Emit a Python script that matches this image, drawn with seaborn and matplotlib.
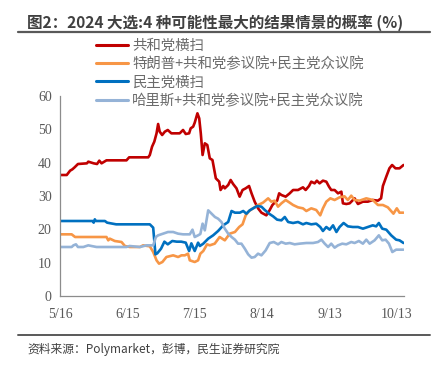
import matplotlib
matplotlib.use("Agg")
import matplotlib.pyplot as plt
import seaborn as sns
import pandas as pd
from matplotlib.lines import Line2D

sns.set_style("white")
plt.rcParams['font.family'] = ['Noto Sans CJK SC', 'DejaVu Sans']

title = "图2：2024 大选:4 种可能性最大的结果情景的概率 (%)"
source = "资料来源：Polymarket，彭博，民生证券研究院"
series_names = ["共和党横扫", "特朗普+共和党参议院+民主党众议院", "民主党横扫", "哈里斯+共和党参议院+民主党众议院"]
colors = ["#C00000", "#F79646", "#0070C0", "#95B3D7"]
start_date = "2024-05-16"
xtick_labels = ["5/16", "6/15", "7/15", "8/14", "9/13", "10/13"]
ytick_values = [0, 10, 20, 30, 40, 50, 60]

# days since 5/16 and values (%)
red_days = [0, 3, 4.5, 5.5, 6.5, 8, 12, 12.6, 15, 16.5, 17.5, 18.5, 20.7, 29.6, 30.8, 39.3, 40, 41, 42, 43, 43.7, 44.4,
            45.5, 46.7, 48, 49.6, 53.3, 54.8, 56, 57.5, 58.2, 59.3, 60, 61.2, 62, 62.7, 63.5, 64.5, 65.6, 66.7, 67.9,
            69.4, 70.9, 71.5, 72.7, 73.4, 74.9, 76, 77.1, 78.6, 80, 81.3, 82.7, 84.2, 85.3, 86.7, 88.2, 89.7, 91.9,
            93.4, 94.6, 95.6, 96.7, 97.6, 98.6, 100.5, 102.3, 103.8, 106, 108.2, 109.4, 110.9, 111.9, 113.4, 114.4,
            115.6, 117.1, 118.6, 119.8, 120.8, 122.3, 123.8, 125.3, 126, 127.5, 129, 131.2, 132.7, 134.9, 137.1,
            139.3, 141.6, 143, 143.8, 145.3, 146.7, 147.9, 149.4, 151.2, 153]
red_vals = [36.3, 36.3, 37.6, 38, 38.6, 39.6, 39.8, 40.3, 39.8, 39.6, 40.6, 39.8, 40.7, 40.7, 41.6, 41.6, 42.3, 44.8,
            46.3, 48.8, 51.6, 49.3, 48.3, 49.3, 49.8, 48.8, 48.8, 49.8, 48.6, 48.8, 50.3, 50.8, 52, 54.8, 53.3, 48.8,
            42.3, 45.8, 45.3, 41.3, 40.8, 35.3, 34.3, 31.8, 33, 32.3, 33.3, 34.8, 33.6, 32.3, 29.8, 31.8, 32.3, 33,
            30.8, 28.3, 26.3, 25, 24.2, 25.8, 27.3, 28, 28.6, 30.8, 30.3, 29.8, 30.8, 31.8, 31.8, 32.6, 31.8, 33,
            34.3, 33.8, 34.6, 33.8, 34.6, 34.3, 32.8, 31.8, 31.8, 30.8, 31.3, 27.8, 27.6, 27.8, 29.3, 27.6, 28.3,
            28.3, 28.8, 28.6, 29.3, 33, 35.8, 38.3, 39.3, 38.3, 38.3, 39.3]

orange_days = [0, 5.2, 6.7, 20.7, 21.5, 22.2, 24.4, 27.4, 28.9, 31.1, 35.6, 37, 40, 41.5, 43, 44.1, 45.6, 47.4, 50.4,
               52.6, 54.1, 55.6, 57, 57.8, 60, 61.5, 62.5, 63.8, 65.5, 66.7, 68.9, 71.1, 73.4, 75.6, 77.9, 79.8,
               81.3, 82.7, 84.2, 86, 88.2, 90.4, 92.7, 94.1, 95.6, 97.1, 98.6, 100.5, 102.3, 103.8, 106, 108.2,
               109.7, 111.9, 114.1, 115.9, 117.1, 118.6, 120.4, 122.3, 124.5, 126.7, 128.2, 129.7, 131.2, 133.4,
               136.4, 139.3, 141.6, 143.8, 146, 148.5, 150, 151.2, 153]
orange_vals = [18.5, 18.5, 17.7, 17.7, 16.7, 17.2, 16.5, 16.2, 15, 14.7, 14.7, 15.2, 14.9, 13.2, 10.7, 9.7, 10.2,
               11.7, 12.2, 11.7, 12.2, 12.2, 12.7, 10.7, 10.2, 10.7, 12.7, 13.5, 15.5, 15.2, 15.7, 17.7, 16.7, 18.7,
               19.2, 20.7, 21.5, 24.2, 25.5, 26.3, 27.3, 28, 29.3, 28.3, 28.6, 26.8, 27.8, 28.8, 28, 27.3, 26.6,
               26.3, 25.5, 26.3, 25.8, 24.2, 26.3, 28.3, 29.3, 28.8, 29.6, 29.9, 28.8, 30.1, 28.8, 28.6, 29.3, 28.8,
               27.3, 27.3, 26.6, 24.7, 26.3, 25, 25]

blue_days = [0, 10, 14.5, 15, 15.5, 16, 20, 21, 25, 30, 35, 40, 41.5, 42.5, 43.3, 45, 46.5, 48, 50, 52, 54, 56, 57.5,
             58.5, 60, 61.5, 62.3, 63.8, 66, 68.2, 70.4, 72.7, 74.9, 76.4, 77.9, 80.1, 81.6, 83, 84.5, 86, 87.8,
             89.7, 91.2, 93.1, 94.9, 96.7, 98.6, 100.1, 101.6, 103.8, 106, 108.2, 109.7, 111.9, 114.1, 115.9, 117.1,
             118.6, 120.1, 121.6, 123.1, 124.5, 126.3, 128.2, 130.4, 132.7, 134.9, 137.1, 139.3, 140.8, 142, 143.5,
             145.3, 147.5, 149.7, 151.2, 153]
blue_vals = [22.5, 22.5, 22.5, 22.0, 23.0, 22.5, 22.5, 22.0, 21.5, 21.5, 21.5, 21.5, 20.5, 12.5, 12.8, 14.2, 16.3,
             15.5, 16.5, 16.3, 16.3, 16.0, 13.5, 15.8, 13.5, 16.0, 15.0, 15.7, 17.2, 18.2, 19.5, 21.2, 22.2, 25.5,
             25.0, 25.0, 25.5, 24.7, 25.7, 26.3, 27.0, 26.8, 25.8, 24.7, 23.9, 22.9, 22.7, 23.7, 22.2, 21.9, 22.2,
             21.5, 21.9, 21.5, 21.7, 20.7, 19.5, 20.7, 19.9, 21.2, 19.2, 20.7, 21.9, 20.9, 20.7, 20.7, 20.2, 20.7,
             21.2, 20.9, 21.9, 20.2, 19.9, 18.2, 16.9, 16.7, 15.9]

lightblue_days = [0, 5.2, 6, 7.1, 8, 10.4, 12.6, 14, 16.3, 29.6, 31, 35.6, 38.5, 41.5, 42.7, 43.7, 45.9, 48.1, 50.4,
                  52.6, 54.8, 57.8, 59, 60, 61.5, 62.5, 63.5, 64.5, 66, 67.5, 69, 70.4, 71.9, 73.4, 74.9, 76.4, 77.9,
                  79.3, 80.8, 82.3, 83.8, 85.3, 86.7, 88.2, 89.7, 91.6, 93.4, 95.2, 97.1, 98.6, 100.5, 102.3, 104.5,
                  106.7, 109.7, 112.7, 114.9, 116.4, 117.9, 119.4, 120.8, 122.3, 123.8, 125.7, 127.5, 129.7, 131.2,
                  133.1, 134.9, 136.4, 137.9, 140.1, 142, 143.5, 145, 146.5, 148, 149.7, 153]
lightblue_vals = [14.7, 14.7, 15.2, 15.5, 14.7, 14.7, 15.2, 15, 14.7, 14.7, 15, 14.7, 15.2, 15.2, 17.7, 18.2, 18.7,
                  19.2, 19.2, 18.7, 18.5, 18.5, 19.9, 17.7, 18.2, 18.6, 21.7, 19.7, 25.7, 24.7, 23.7, 23.2, 22.2,
                  20.2, 18.7, 17.7, 16.9, 15.7, 15.7, 14.2, 12.5, 11.5, 11.7, 12.7, 12.2, 13.7, 15.9, 16.2, 15.5,
                  16.2, 15.7, 15.9, 15.5, 15.7, 15.9, 15.9, 16.2, 16.9, 15.7, 14.7, 15.7, 14.5, 15.2, 15.7, 15.5,
                  16.2, 15.9, 16.5, 15.7, 16.9, 15.7, 16.7, 18.2, 16.7, 16.9, 15.7, 13.2, 13.9, 13.9]

all_days = [red_days, orange_days, blue_days, lightblue_days]
all_vals = [red_vals, orange_vals, blue_vals, lightblue_vals]

t0 = pd.Timestamp(start_date)
frames = []
for name, d, v in zip(series_names, all_days, all_vals):
    frames.append(pd.DataFrame({
        "date": t0 + pd.to_timedelta(d, unit="D"),
        "value": v,
        "series": name,
    }))
df = pd.concat(frames, ignore_index=True)

W, H = 438, 366
fig = plt.figure(figsize=(W / 100, H / 100), dpi=100)
ax = fig.add_axes([60 / W, 1 - 296 / H, (404 - 60) / W, 200 / H])

palette = dict(zip(series_names, colors))
sns.lineplot(data=df, x="date", y="value", hue="series", hue_order=series_names,
             palette=palette, estimator=None, sort=True, linewidth=1.9, ax=ax, legend=False)

ax.set_ylim(0, 60)
ax.set_xlim(t0, t0 + pd.Timedelta(days=153.2))
ax.set_yticks(ytick_values)
xt = [t0 + pd.Timedelta(days=30 * i) for i in range(len(xtick_labels))]
ax.set_xticks(xt)
ax.set_xticklabels(xtick_labels)
ax.set_xlabel("")
ax.set_ylabel("")
for lab in ax.get_xticklabels() + ax.get_yticklabels():
    lab.set_fontfamily("Liberation Serif")
    lab.set_fontsize(10)
    lab.set_color("#595959")
ax.tick_params(axis="both", direction="out", length=3, width=0.8, color="#8c8c8c")
ax.tick_params(axis="x", pad=6)
ax.tick_params(axis="y", pad=3)
for s in ["top", "right"]:
    ax.spines[s].set_visible(False)
for s in ["left", "bottom"]:
    ax.spines[s].set_color("#8c8c8c")
    ax.spines[s].set_linewidth(0.9)

handles = [Line2D([0], [0], color=c, lw=2.2) for c in colors]
leg = fig.legend(handles, series_names, loc="upper left", bbox_to_anchor=(96 / W, 1 - 39 / H),
                 frameon=False, borderpad=0, borderaxespad=0, handlelength=2.2, handletextpad=0.3,
                 labelspacing=0.28, prop={"family": ["Noto Sans CJK SC", "DejaVu Sans"], "size": 10.4})
for t in leg.get_texts():
    t.set_color("#6b6b6b")

fig.text(27 / W, 1 - 23 / H, title, ha="left", va="center", fontsize=11.2, fontweight="bold", color="#404040")
fig.add_artist(Line2D([18 / W, 430 / W], [1 - 32 / H, 1 - 32 / H], color="#595959", lw=1.6))
fig.add_artist(Line2D([18 / W, 430 / W], [1 - 335 / H, 1 - 335 / H], color="#595959", lw=1.4))
fig.text(27 / W, 1 - 349 / H, source, ha="left", va="center", fontsize=8.5, color="#404040")

fig.savefig("out.png", dpi=100)
